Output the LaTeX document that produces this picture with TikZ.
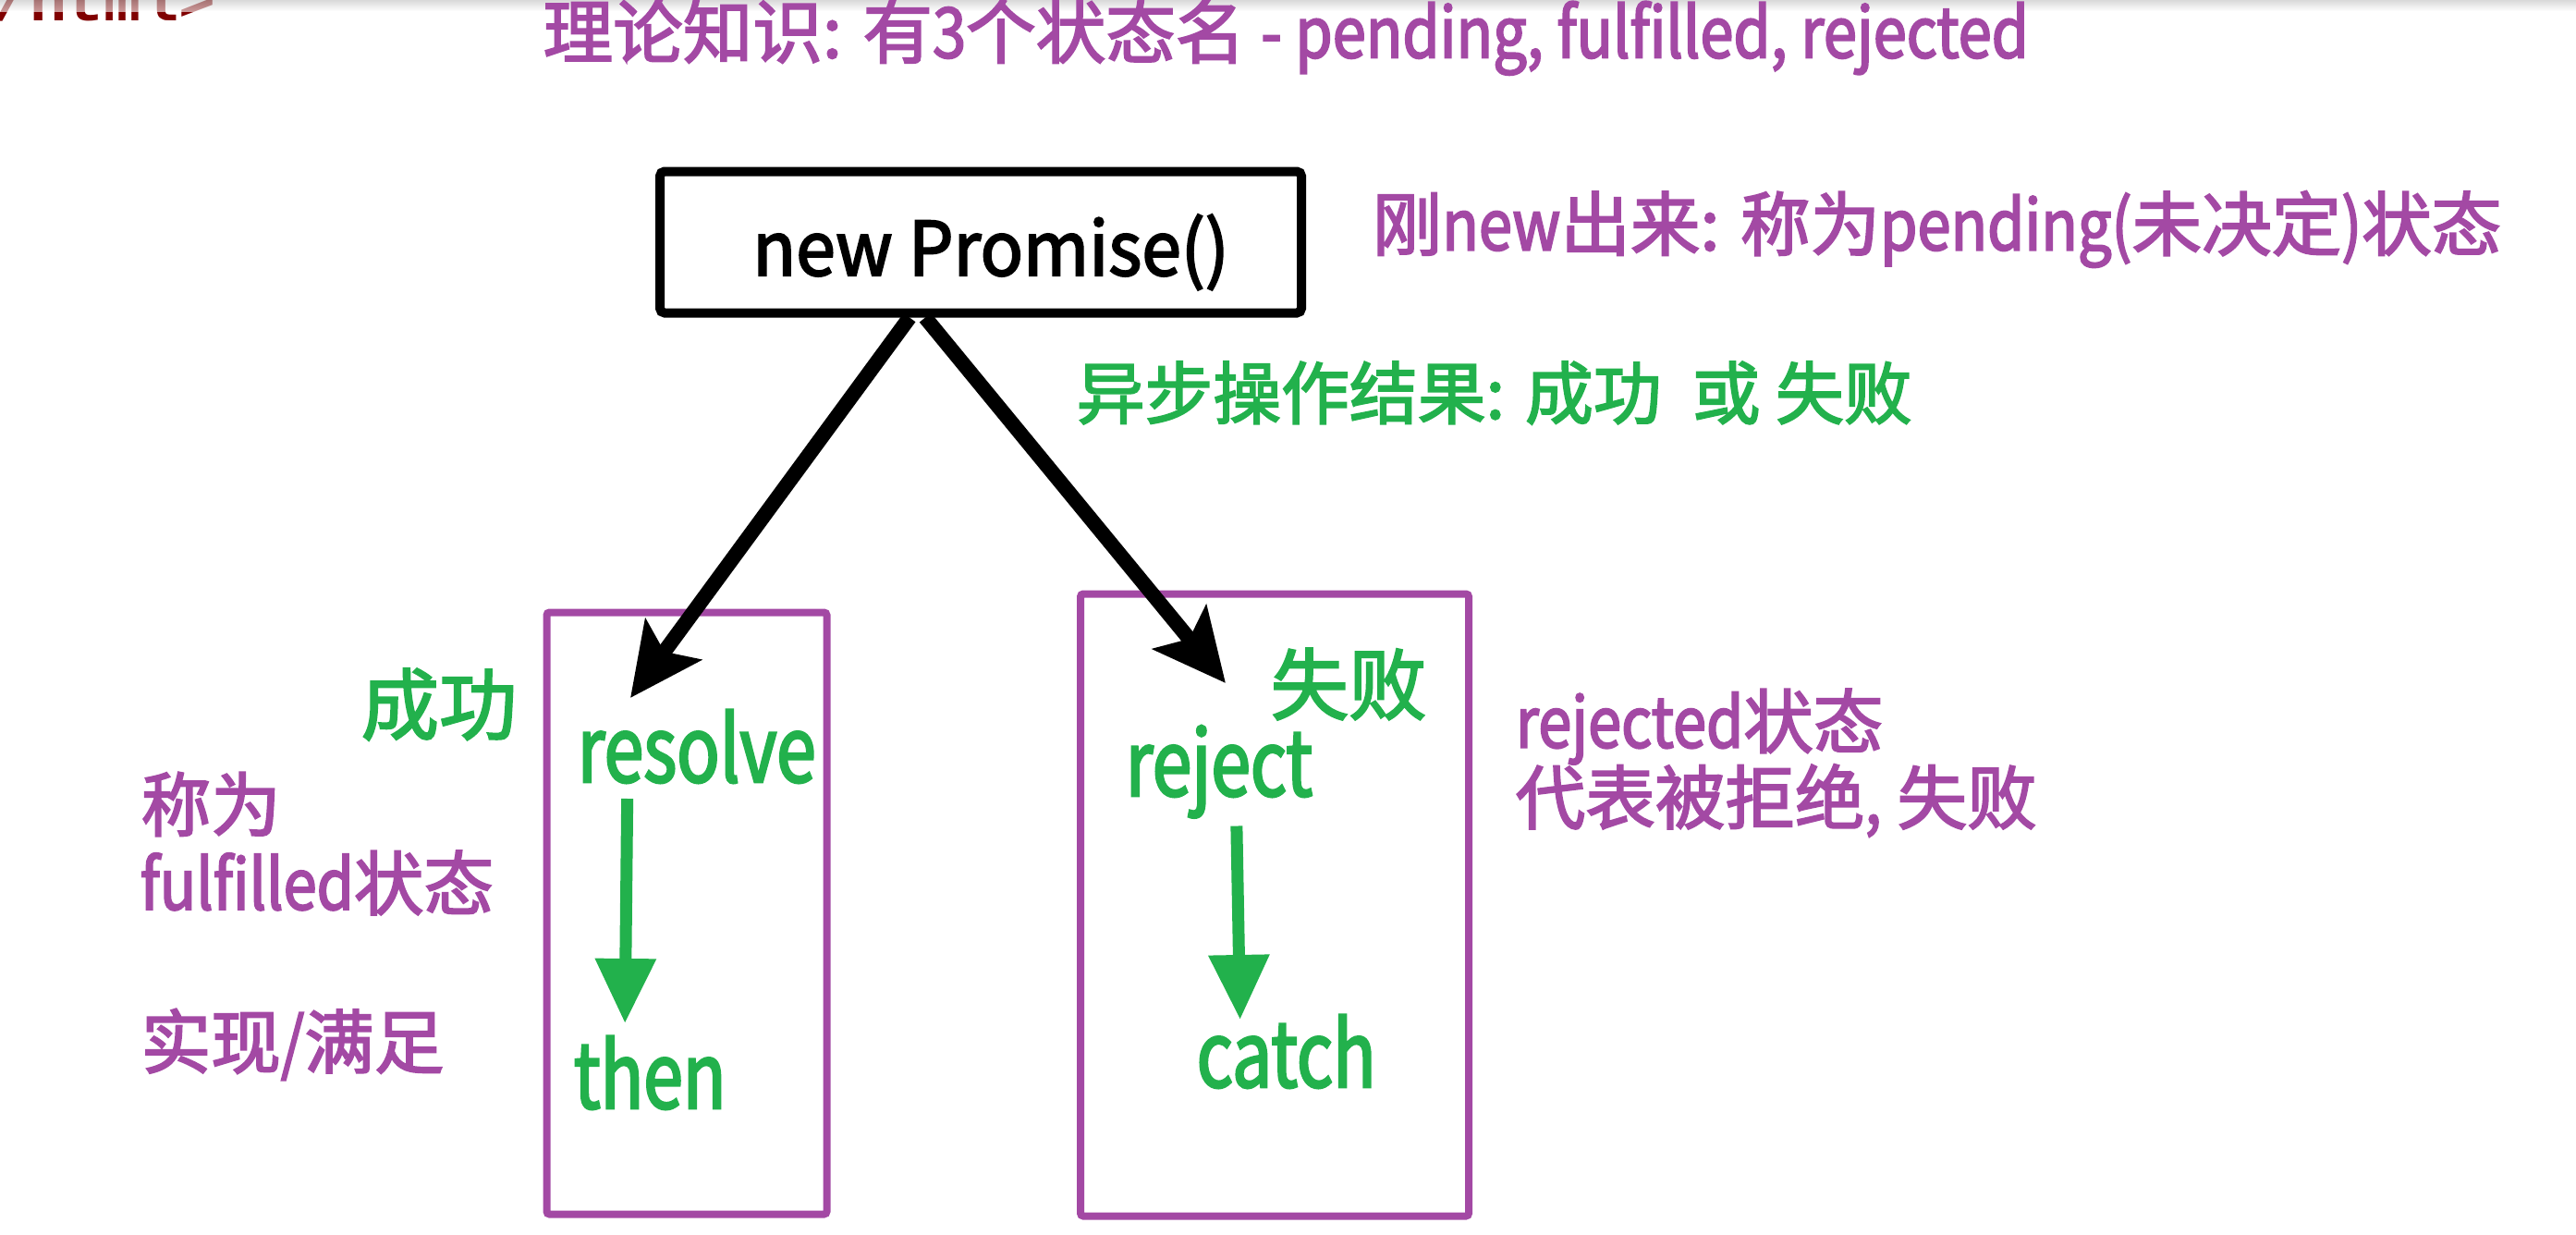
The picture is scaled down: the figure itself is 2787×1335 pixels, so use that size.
\documentclass[tikz,border=0pt]{standalone}
\usepackage{xcolor}
\usepackage{fontspec}
\setmainfont{Noto Sans CJK SC}[FakeBold=2.5]
\newfontfamily\en[FakeStretch=0.78, FakeBold=2.5]{Noto Sans CJK SC}
\newfontfamily\ennote[FakeStretch=0.86, FakeBold=2.5]{Noto Sans CJK SC}
\newfontfamily\enbox[FakeStretch=0.95, FakeBold=2.5]{Noto Sans CJK SC}
\newfontfamily\code{Liberation Mono}
\usetikzlibrary{arrows.meta,calc}
\definecolor{plum}{RGB}{163,73,164}
\definecolor{leaf}{RGB}{34,177,76}
\definecolor{tagred}{RGB}{128,0,0}
\tikzstyle{txt} = [inner sep=0pt, anchor=west]
\tikzstyle{note} = [txt, text=plum, font=\fontsize{21.5pt}{26pt}\selectfont]
\tikzset{
  % node styles
  gnote/.style={note, text=leaf, font=\fontsize{21pt}{26pt}\selectfont},
  okword/.style={txt, text=leaf, font=\fontsize{24pt}{28pt}\selectfont},
  callword/.style={inner sep=0pt, anchor=base west, text=leaf, font=\en\fontsize{28pt}{32pt}\selectfont},
  htmltag/.style={inner sep=0pt, anchor=base west, text=tagred, font=\code\bfseries\fontsize{19pt}{22pt}\selectfont},
  promise/.style={draw, line width=1mm, rounded corners=0.5mm, minimum width=69.4mm, minimum height=15.3mm, inner sep=0pt},
  pbox/.style={draw=plum, line width=0.8mm, rounded corners=0.3mm, inner sep=0pt},
  % edge styles
  forkarr/.style={line width=1.6mm, -{Stealth[length=7.8mm, width=7.4mm, inset=1.6mm]}},
  flowarr/.style={draw=leaf, line width=1.3mm, -{Triangle[length=7mm, width=6.3mm]}},
}
\begin{document}
\begin{tikzpicture}[x=0.1mm, y=-0.1mm]
  \useasboundingbox (0,0) rectangle (2787,1335);
  \clip (0,0) rectangle (2787,1335);
  % page edge
  \node(TAG)[htmltag] at (-48,22) {</html>};
  \shade[top color=black!25, bottom color=white, opacity=0.6] (0,0) rectangle (2787,12);
  % title
  \node(T)[note] at (587,40) {理论知识: 有{\ennote 3}个状态名 {\ennote - pending, fulfilled, rejected}};
  % new promise
  \node(NP)[promise] at (1061,262) {};
  \node(NPT)[inner sep=0pt, anchor=base, font=\enbox\fontsize{23pt}{28pt}\selectfont] at (1072,298) {new Promise()};
  \node(PN)[note] at (1484,248) {刚{\ennote new}出来: 称为{\ennote pending(}未决定{\ennote )}状态};
  \node(AS)[gnote] at (1164,425) {异步操作结果: 成功~~或 失败};
  % resolve side
  \node(B1)[pbox, minimum width=30.3mm, minimum height=65.1mm] at (743,988) {};
  \node(OK)[okword] at (390,762) {成功};
  \node(RS)[callword] at (624,846) {resolve};
  \node(TH)[callword] at (620,1199) {then};
  \node(N1)[note] at (152,870) {称为};
  \node(N2)[note] at (151,955) {{\ennote fulfilled}状态};
  \node(N3)[note] at (152,1130) {实现{\ennote /}满足};
  % reject side
  \node(B2)[pbox, minimum width=42mm, minimum height=67.3mm] at (1379,979) {};
  \node(NG)[okword] at (1374,740) {失败};
  \node(RJ)[callword] at (1217,861) {reject};
  \node(CT)[callword] at (1294,1176) {catch};
  \node(N4)[note] at (1639,786) {{\ennote rejected}状态};
  \node(N5)[note] at (1639,866) {代表被拒绝{\ennote ,} 失败};
  % arrows
  \coordinate(OKT) at (682,755);
  \coordinate(NGT) at (1326,739);
  \draw[forkarr] ([xshift=-7.7mm]NP.south) -- (OKT);
  \draw[forkarr] ([xshift=-6mm]NP.south) -- (NGT);
  \draw[flowarr] ([xshift=-7.5mm,yshift=-1.6mm]RS.south) -- ([xshift=-2.7mm,yshift=1.3mm]TH.north);
  \draw[flowarr] ([xshift=1.9mm,yshift=-0.8mm]RJ.south) -- ([xshift=-5mm,yshift=-0.6mm]CT.north);
\end{tikzpicture}
\end{document}
